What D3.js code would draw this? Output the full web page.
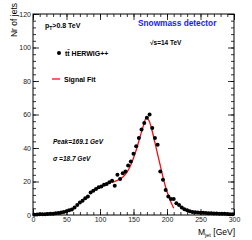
<!DOCTYPE html>
<meta charset="utf-8">
<head>
    <style>
        body{
            margin: 0;
            background-color: white;
            font-family: "Liberation Sans", Arial, sans-serif;
        }
        .axis text{
            font-size: 7px;
            fill: #222;
        }
        .axis path{
            stroke: none;
        }
        .axis line{
            stroke: black;
            stroke-width: 0.8;
        }
    </style>
</head>
<body>
<div id="chart"></div>
<script src="https://d3js.org/d3.v7.min.js"></script>
<script>

    // jet mass bins (GeV) and number of jets
    const massBins = [2, 6, 10, 14, 18, 22, 26, 30, 34, 38, 42, 46, 50, 54, 58, 62, 66, 70, 74, 78,
        82, 86, 90, 94, 98, 102, 106, 110, 114, 118, 122, 126, 130, 134, 138, 142, 146, 150, 154, 158,
        162, 166, 170, 174, 178, 182, 186, 190, 194, 198, 202, 206, 210, 214, 218, 222, 226, 230, 234, 238,
        242, 246, 250, 254, 258, 262, 266, 270, 274, 278, 282, 286, 290, 294, 298];
    const nJets = [0.2, 0.3, 0.4, 0.5, 0.5, 0.6, 0.7, 0.8, 1.0, 1.2, 1.5, 1.8, 2.3, 2.8, 3.3, 4.5, 6, 7.5, 8.5, 10,
        11, 13.5, 14.5, 15.5, 16.5, 17, 18, 18.5, 19.5, 20.5, 17.5, 24, 21.5, 25, 26, 29.5, 32, 36.5, 41, 46,
        51, 55, 58, 60, 52, 46, 42, 26, 21, 15, 11, 9.5, 9.5, 7, 6, 4.5, 3.5, 2.8, 2.2, 1.8,
        1.6, 1.5, 1.4, 1.3, 1.2, 1.1, 1.0, 0.9, 0.9, 0.8, 0.7, 0.7, 0.6, 0.5, 0.5];

    // signal fit curve
    const fitMass = [118, 125, 130, 135, 140, 145, 150, 155, 160, 165, 169, 173, 177, 181, 185, 190, 195, 200, 205, 210];
    const fitJets = [19.5, 20.5, 21.5, 23, 25.5, 29, 34, 40, 47, 53.5, 58, 56.5, 51.5, 45, 38, 29.5, 21, 14, 8.5, 4];

    const xTicks = [0, 50, 100, 150, 200, 250, 300];
    const yTicks = [0, 20, 40, 60, 80, 100, 120];

    const W = 252, H = 240;
    const margin = {top: 14, right: 18, bottom: 25, left: 33},
        width = W - margin.left - margin.right,
        height = H - margin.top - margin.bottom;

    const svg = d3.select("#chart")
        .append("svg")
        .attr("width", W)
        .attr("height", H);

    const g = svg.append("g")
        .attr("transform", `translate(${margin.left},${margin.top})`);

    const x = d3.scaleLinear().domain([0, 300]).range([0, width]);
    const y = d3.scaleLinear().domain([0, 120]).range([height, 0]);

    // frame
    g.append("rect")
        .attr("width", width)
        .attr("height", height)
        .attr("fill", "white")
        .attr("stroke", "black")
        .attr("stroke-width", 1);

    // minor ticks
    const xMinor = d3.range(0, 301, 10);
    const yMinor = d3.range(0, 121, 4);
    g.append("g").attr("class", "axis")
        .attr("transform", `translate(0,${height})`)
        .call(d3.axisBottom(x).tickValues(xMinor).tickSize(-3).tickFormat(""));
    g.append("g").attr("class", "axis")
        .call(d3.axisTop(x).tickValues(xMinor).tickSize(-3).tickFormat(""));
    g.append("g").attr("class", "axis")
        .call(d3.axisLeft(y).tickValues(yMinor).tickSize(-3).tickFormat(""));
    g.append("g").attr("class", "axis")
        .attr("transform", `translate(${width},0)`)
        .call(d3.axisRight(y).tickValues(yMinor).tickSize(-3).tickFormat(""));

    // major ticks
    g.append("g").attr("class", "axis")
        .attr("transform", `translate(0,${height})`)
        .call(d3.axisBottom(x).tickValues(xTicks).tickSize(-6).tickPadding(2));
    g.append("g").attr("class", "axis")
        .call(d3.axisTop(x).tickValues(xTicks).tickSize(-6).tickFormat(""));
    g.append("g").attr("class", "axis")
        .call(d3.axisLeft(y).tickValues(yTicks).tickSize(-6).tickPadding(2));
    g.append("g").attr("class", "axis")
        .attr("transform", `translate(${width},0)`)
        .call(d3.axisRight(y).tickValues(yTicks).tickSize(-6).tickFormat(""));

    // axis titles
    svg.append("text")
        .attr("text-anchor", "end")
        .attr("x", 235)
        .attr("y", 235)
        .attr("font-size", "8.5px")
        .html('M<tspan font-size="5.5px" dy="2">jet</tspan><tspan dy="-2"> [GeV]</tspan>');

    svg.append("text")
        .attr("text-anchor", "end")
        .attr("transform", "translate(17,3) rotate(-90)")
        .attr("font-size", "8.5px")
        .text("Nr of jets");

    // fit line
    const fitData = fitMass.map((m, i) => ({m: m, n: fitJets[i]}));
    g.append("path")
        .datum(fitData)
        .attr("fill", "none")
        .attr("stroke", "#ee1111")
        .attr("stroke-width", 1.3)
        .attr("d", d3.line()
            .curve(d3.curveCatmullRom)
            .x(d => x(d.m))
            .y(d => y(d.n)));

    // data points
    const pts = massBins.map((m, i) => ({m: m, n: nJets[i]}));
    g.append("g")
        .selectAll("circle")
        .data(pts)
        .join("circle")
        .attr("cx", d => x(d.m))
        .attr("cy", d => y(d.n))
        .attr("r", 2)
        .attr("fill", "black");

    // labels
    svg.append("text")
        .attr("x", 45).attr("y", 28)
        .attr("font-size", "7px").attr("font-weight", "bold")
        .html('p<tspan font-size="5px" dy="1.5">T</tspan><tspan dy="-1.5">&gt;0.8 TeV</tspan>');

    svg.append("text")
        .attr("x", 138).attr("y", 26)
        .attr("font-size", "8.3px").attr("font-weight", "bold")
        .attr("fill", "#1a1aff")
        .text("Snowmass detector");

    svg.append("text")
        .attr("x", 150).attr("y", 45)
        .attr("font-size", "6.5px").attr("font-weight", "bold")
        .text("\u221As=14 TeV");

    // legend
    svg.append("circle")
        .attr("cx", 59).attr("cy", 53).attr("r", 2).attr("fill", "black");
    svg.append("text")
        .attr("x", 65).attr("y", 56)
        .attr("font-size", "7px").attr("font-weight", "bold")
        .text("tt\u0304 HERWIG++");
    svg.append("line")
        .attr("x1", 52).attr("x2", 60).attr("y1", 79).attr("y2", 79)
        .attr("stroke", "#ee1111").attr("stroke-width", 1.3);
    svg.append("text")
        .attr("x", 64).attr("y", 82)
        .attr("font-size", "7px").attr("font-weight", "bold")
        .text("Signal Fit");

    svg.append("text")
        .attr("x", 53).attr("y", 143.5)
        .attr("font-size", "6.5px").attr("font-weight", "bold").attr("font-style", "italic")
        .text("Peak=169.1 GeV");
    svg.append("text")
        .attr("x", 53).attr("y", 161)
        .attr("font-size", "6.5px").attr("font-weight", "bold").attr("font-style", "italic")
        .text("\u03C3 =18.7 GeV");

</script>
</body>
